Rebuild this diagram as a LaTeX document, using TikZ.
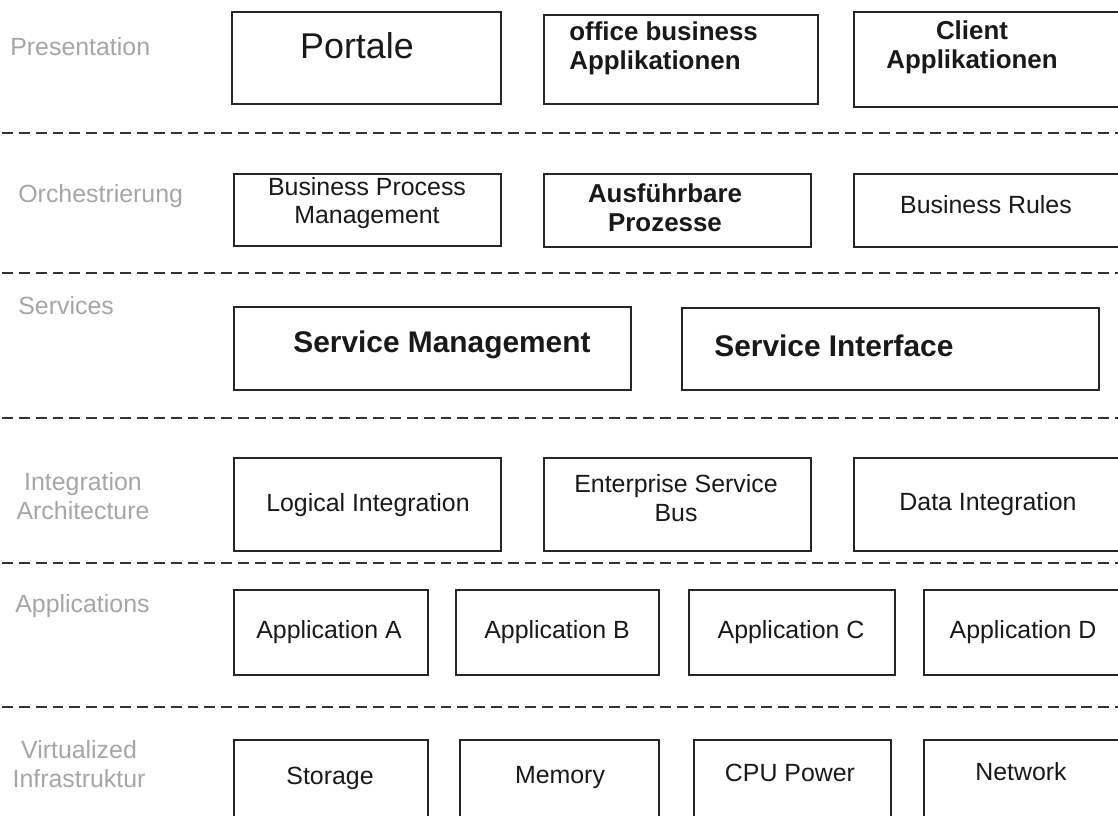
\documentclass[tikz,border=0pt]{standalone}
\usepackage{fontspec}
\setmainfont{Liberation Sans}
\begin{document}
\begin{tikzpicture}[x=0.02cm,y=-0.02cm,
  boxst/.style={draw=black!85, line width=1.1pt, rectangle, inner sep=0pt},
  sep/.style={draw=black!80, line width=1.1pt, dash pattern=on 6.2pt off 3.4pt},
  side/.style={text=black!35, font=\fontsize{14.17}{16.4}\selectfont, inner sep=0pt, align=center},
  reg/.style={text=black!90, font=\fontsize{14.17}{16.4}\selectfont, inner sep=0pt, align=center},
  bld/.style={text=black!90, font=\fontsize{14.74}{16.4}\selectfont\bfseries, inner sep=0pt, align=center},
  big/.style={text=black!90, font=\fontsize{17}{20}\selectfont\bfseries, inner sep=0pt},
  huge/.style={text=black!90, font=\fontsize{20.4}{24}\selectfont, inner sep=0pt}]
\newcommand\mkbox[5]{\node[boxst, minimum width={(#4-#2)*0.02cm}, minimum height={(#5-#3)*0.02cm}] (#1) at ({(#2+#4)/2},{(#3+#5)/2}) {};}
\useasboundingbox (0,0) rectangle (1118,815);
\clip (0,0) rectangle (1118,815);
\fill[white] (0,0) rectangle (1118,815);
% separators
\foreach \yy [count=\i] in {133,273,418,563,707}{
  \coordinate (sl\i) at (2,\yy); \coordinate (sr\i) at (1118,\yy);
  \draw[sep] (sl\i) -- (sr\i);
}
% side labels
\node[side, anchor=west] (lpres) at (10,47) {Presentation};
\node[side, anchor=west] (lorch) at (18,196) {Orchestrierung};
\node[side, anchor=west] (lserv) at (18,306) {Services};
\node[side] (lint) at (83,496) {Integration\\Architecture};
\node[side] (lvirt) at (79,764) {Virtualized\\Infrastruktur};
\node[side, anchor=west] (lapp) at (15,606) {Applications};
% row 1
\mkbox{portale}{232}{12}{501}{104}
\mkbox{office}{544}{15}{818}{104}
\mkbox{client}{854}{12}{1122}{107}
\node[huge] (tportale) at (357,46) {Portale};
\node[bld, align=left, anchor=west] (toffice) at (569,48) {office business\\Applikationen};
\node[bld] (tclient) at (972,47) {Client\\Applikationen};
% row 2
\mkbox{bpm}{234}{174}{501}{246}
\mkbox{ausf}{544}{174}{811}{247}
\mkbox{rules}{854}{174}{1122}{247}
\node[reg] (tbpm) at (367,203) {Business Process\\Management};
\node[bld] (tausf) at (665,208) {Ausführbare\\Prozesse};
\node[reg] (trules) at (986,205) {Business Rules};
% row 3
\mkbox{sm}{234}{307}{631}{390}
\mkbox{si}{682}{308}{1099}{390}
\node[big] (tsm) at (442,345) {Service Management};
\node[big, anchor=west] (tsi) at (714,346) {Service Interface};
% row 4
\mkbox{li}{234}{458}{501}{551}
\mkbox{esb}{544}{458}{811}{551}
\mkbox{di}{854}{458}{1122}{551}
\node[reg] (tli) at (368,505) {Logical Integration};
\node[reg] (tesb) at (676,498) {Enterprise Service\\Bus};
\node[reg] (tdi) at (988,504) {Data Integration};
% row 5
\mkbox{appa}{234}{590}{428}{675}
\mkbox{appb}{456}{590}{659}{675}
\mkbox{appc}{689}{590}{895}{675}
\mkbox{appd}{924}{590}{1126}{675}
\node[reg] (tappa) at (329,632) {Application A};
\node[reg] (tappb) at (557,632) {Application B};
\node[reg] (tappc) at (791,632) {Application C};
\node[reg] (tappd) at (1023,632) {Application D};
% row 6
\mkbox{stor}{234}{740}{428}{830}
\mkbox{mem}{460}{740}{659}{830}
\mkbox{cpu}{694}{740}{891}{830}
\mkbox{net}{924}{740}{1126}{830}
\node[reg] (tstor) at (330,778) {Storage};
\node[reg] (tmem) at (560,778) {Memory};
\node[reg] (tcpu) at (790,773) {CPU Power};
\node[reg] (tnet) at (1021,772) {Network};
\end{tikzpicture}
\end{document}
